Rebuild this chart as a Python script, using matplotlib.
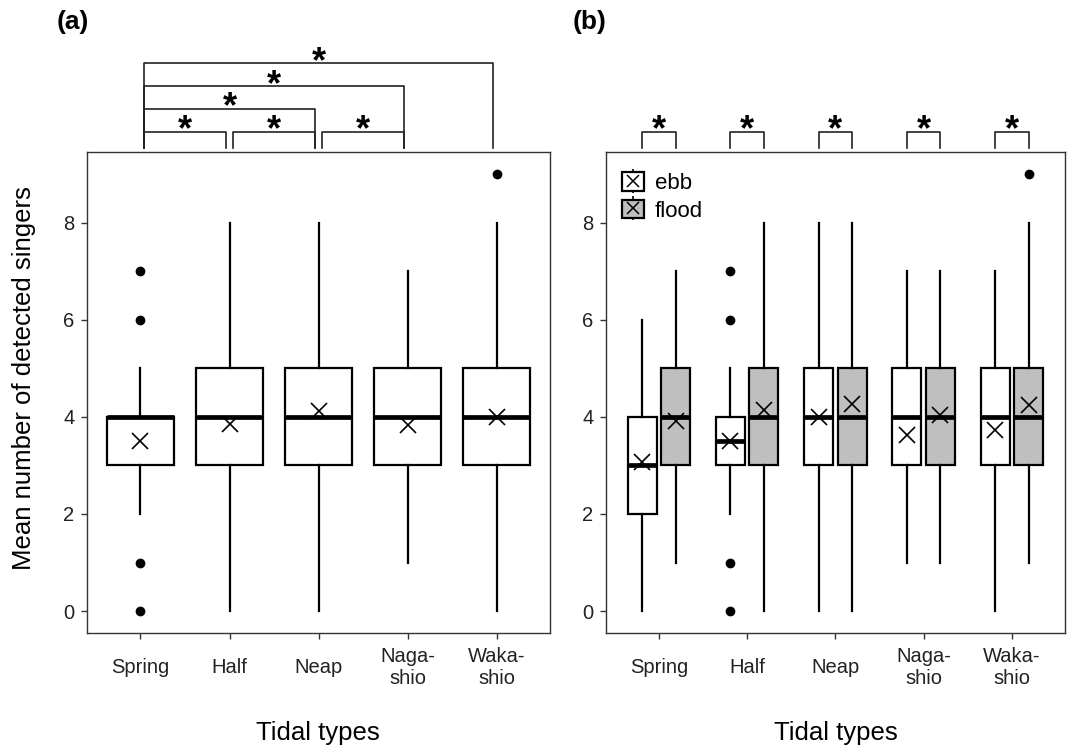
import matplotlib.pyplot as plt
from matplotlib.patches import Patch
from matplotlib.lines import Line2D
from matplotlib.legend_handler import HandlerTuple

plt.rcParams['font.family'] = ['Liberation Sans', 'DejaVu Sans']

# Data
categories = ["Spring", "Half", "Neap", "Naga-\nshio", "Waka-\nshio"]

# panel (a): all tides
a_lo = [2, 0, 0, 1, 0]
a_q1 = [3, 3, 3, 3, 3]
a_med = [4, 4, 4, 4, 4]
a_q3 = [4, 5, 5, 5, 5]
a_hi = [5, 8, 8, 7, 8]
a_mean = [3.51, 3.85, 4.13, 3.83, 3.99]
a_fliers = [[0, 1, 6, 7], [], [], [], [9]]

# panel (b): ebb
ebb_lo = [0, 2, 0, 1, 0]
ebb_q1 = [2, 3, 3, 3, 3]
ebb_med = [3, 3.5, 4, 4, 4]
ebb_q3 = [4, 4, 5, 5, 5]
ebb_hi = [6, 5, 8, 7, 7]
ebb_mean = [3.07, 3.51, 3.99, 3.63, 3.72]
ebb_fliers = [[], [0, 1, 6, 7], [], [], []]

# panel (b): flood
flood_lo = [1, 0, 0, 1, 1]
flood_q1 = [3, 3, 3, 3, 3]
flood_med = [4, 4, 4, 4, 4]
flood_q3 = [5, 5, 5, 5, 5]
flood_hi = [7, 8, 8, 7, 8]
flood_mean = [3.91, 4.14, 4.27, 4.03, 4.24]
flood_fliers = [[], [], [], [], [9]]

# significance pairs for panel (a) (index pairs) and their levels
a_pairs = [(0, 1), (1, 2), (2, 3), (0, 2), (0, 3), (0, 4)]
a_levels = [0, 0, 0, 1, 2, 3]


def make_stats(lo, q1, med, q3, hi, mean, fliers):
    stats = []
    for i in range(len(lo)):
        stats.append(dict(whislo=lo[i], q1=q1[i], med=med[i], q3=q3[i],
                          whishi=hi[i], mean=mean[i], fliers=fliers[i]))
    return stats


def draw_boxes(ax, stats, positions, width, face):
    ax.bxp(stats, positions=positions, widths=width, patch_artist=True,
           showmeans=True, showcaps=False,
           boxprops=dict(facecolor=face, edgecolor='black', linewidth=1.6),
           medianprops=dict(color='black', linewidth=3.4, solid_capstyle='butt'),
           whiskerprops=dict(color='black', linewidth=1.6),
           meanprops=dict(marker='x', markeredgecolor='black', markersize=11,
                          markeredgewidth=1.2, zorder=6),
           flierprops=dict(marker='o', markerfacecolor='black',
                           markeredgecolor='black', markersize=6))


def bracket(ax, x1, x2, ytop, ybot):
    ax.plot([x1, x1, x2, x2], [ybot, ytop, ytop, ybot], color='#222222',
            lw=1.2, clip_on=False)
    ax.text((x1 + x2) / 2, ytop - 0.18, '*', ha='center', va='baseline',
            fontsize=26, fontweight='bold', clip_on=False)


def style_axes(ax):
    ax.set_xlim(0.4, 5.6)
    ax.set_ylim(-0.45, 9.45)
    ax.set_yticks([0, 2, 4, 6, 8])
    ax.set_xticks(range(1, 6))
    ax.set_xticklabels(categories)
    for lab in ax.get_xticklabels():
        lab.set_verticalalignment('center')
    ax.tick_params(axis='both', labelsize=14.5, color='#333333', length=4,
                   width=1, labelcolor='#222222')
    ax.tick_params(axis='x', pad=21)
    ax.tick_params(axis='y', pad=5)
    for sp in ax.spines.values():
        sp.set_color('#333333')
        sp.set_linewidth(1)


fig = plt.figure(figsize=(10.72, 7.49), dpi=100)
ax1 = fig.add_axes([0.0812, 0.1549, 0.432, 0.642])
ax2 = fig.add_axes([0.5653, 0.1549, 0.428, 0.642])

pos = [1, 2, 3, 4, 5]

# Panel (a)
draw_boxes(ax1, make_stats(a_lo, a_q1, a_med, a_q3, a_hi, a_mean, a_fliers),
           pos, 0.75, 'white')
style_axes(ax1)
level_y = [9.87, 10.34, 10.81, 11.28]
for (i, j), lv in zip(a_pairs, a_levels):
    bracket(ax1, pos[i] + 0.04, pos[j] - 0.04, level_y[lv], 9.54)

# Panel (b)
off = 0.19
draw_boxes(ax2, make_stats(ebb_lo, ebb_q1, ebb_med, ebb_q3, ebb_hi, ebb_mean, ebb_fliers),
           [p - off for p in pos], 0.33, 'white')
draw_boxes(ax2, make_stats(flood_lo, flood_q1, flood_med, flood_q3, flood_hi,
                           flood_mean, flood_fliers),
           [p + off for p in pos], 0.33, '#bfbfbf')
style_axes(ax2)
for p in pos:
    bracket(ax2, p - off, p + off, 9.87, 9.54)

handles = []
for face in ['white', '#bfbfbf']:
    handles.append((Line2D([], [], marker='|', color='black', markersize=17,
                           markeredgewidth=1.2, linestyle='none'),
                    Patch(facecolor=face, edgecolor='black', linewidth=1.6),
                    Line2D([], [], marker='x', color='black', markersize=9,
                           markeredgewidth=1.1, linestyle='none')))
ax2.legend(handles, ['ebb', 'flood'], handler_map={tuple: HandlerTuple(ndivide=1, pad=0)},
           loc='upper left', bbox_to_anchor=(0.0, 0.99), frameon=False,
           fontsize=16, handlelength=1.0, handleheight=0.9, handletextpad=0.5,
           labelspacing=0.25, borderaxespad=0.3)

fig.text(73 / 1072, 1 - 22 / 749, '(a)', fontsize=19, fontweight='bold',
         ha='center', va='center')
fig.text(590 / 1072, 1 - 22 / 749, '(b)', fontsize=19, fontweight='bold',
         ha='center', va='center')
fig.text(24 / 1072, 1 - 378 / 749, 'Mean number of detected singers', fontsize=18.5,
         rotation=90, ha='center', va='center')
fig.text(318 / 1072, 1 - 733 / 749, 'Tidal types', fontsize=18.5, ha='center', va='center')
fig.text(836 / 1072, 1 - 733 / 749, 'Tidal types', fontsize=18.5, ha='center', va='center')

plt.savefig("out.png", dpi=100)
